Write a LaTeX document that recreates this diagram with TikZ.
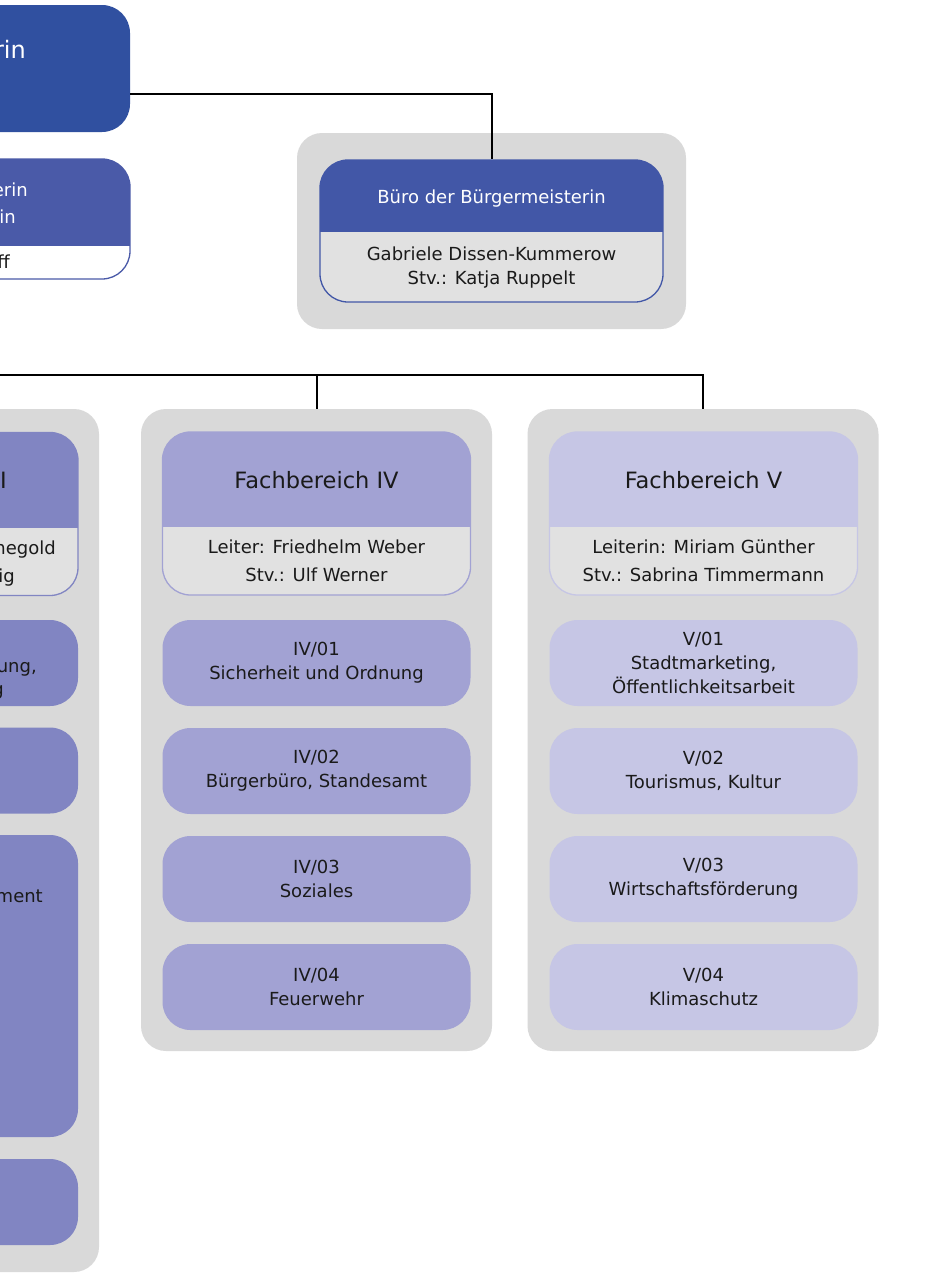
\documentclass[tikz,border=0pt]{standalone}
\usepackage{fontspec}
\setmainfont{DejaVu Sans}
\usepackage{tikz}

\definecolor{grpgrey}{HTML}{D9D9D9}
\definecolor{lowgrey}{HTML}{E1E1E1}
\definecolor{topblue}{HTML}{3050A0}
\definecolor{stvblue}{HTML}{4A5AA8}
\definecolor{buroblue}{HTML}{4257A7}
\definecolor{colIII}{HTML}{8185C2}
\definecolor{colIV}{HTML}{A2A2D3}
\definecolor{colV}{HTML}{C6C6E5}
\definecolor{txt}{HTML}{1A1A1A}

\newcommand\bodyfont{\fontsize{18}{24}\selectfont}
\newcommand\leitfont{\fontsize{18}{28}\selectfont}
\newcommand\titlefont{\fontsize{22.5}{27}\selectfont}
\newcommand\bigfont{\fontsize{24}{29}\selectfont}

\tikzset{
  grpbox/.style={fill=grpgrey, rounded corners=25pt, inner sep=0pt, minimum width=351pt},
  hdrbox/.style n args={2}{fill=lowgrey, draw=#1, line width=1.3pt, rounded corners=28pt,
    inner sep=0pt,
    path picture={\fill[#1, sharp corners] (path picture bounding box.north west) rectangle
      ([yshift=-#2]path picture bounding box.north east);}},
  colhdr/.style={hdrbox={#1}{95pt}, minimum width=308pt, minimum height=163pt},
  unitbox/.style={fill=#1, rounded corners=28pt, inner sep=0pt, minimum width=308pt,
    minimum height=86pt, align=center, font=\bodyfont, text=txt},
  frag/.style={anchor=base east, inner sep=0pt, text=txt, font=\bodyfont},
  conn/.style={draw=black, line width=2pt}
}

\begin{document}
\begin{tikzpicture}[x=1pt,y=-1pt]
\useasboundingbox (0,0) rectangle (927,1274);
\clip (0,0) rectangle (927,1274);
\fill[white] (0,0) rectangle (927,1274);

% Leitung
\node[fill=topblue, rounded corners=28pt, minimum width=330pt, minimum height=127pt] (bm) at (-35,68.5) {};
\node[frag, text=white, font=\bigfont] (bmtxt) at (26,58) {rin};
\node[hdrbox={stvblue}{87pt}, fill=white, minimum width=330pt, minimum height=120pt] (stv) at (-35,219) {};
\node[frag, text=white] (stv1) at (28,196) {erin};
\node[frag, text=white] (stv2) at (16,223) {in};
\node[frag] (stv3) at (10,268) {ff};

% Buero
\node[grpbox, minimum width=389pt, minimum height=196pt] (grpB) at (491.5,231) {};
\node[hdrbox={buroblue}{72pt}, minimum width=343pt, minimum height=142pt] (buro) at (491.5,231) {};
\node[anchor=base, text=white, font=\bodyfont] (burotitle) at (491.5,203) {Büro der Bürgermeisterin};
\node[align=center, text=txt, font=\bodyfont] (buronames) at (491.5,268) {Gabriele Dissen-Kummerow\\Stv.: Katja Ruppelt};

% Fachbereich III
\node[grpbox, minimum height=863pt] (grpIII) at (-76.5,840.5) {};
\node[colhdr=colIII] (hIII) at (-76,514) {};
\node[frag, font=\titlefont] (hIIIt) at (7,488) {I};
\node[frag] (hIII1) at (56,554) {negold};
\node[frag] (hIII2) at (15,582) {ig};
\node[unitbox=colIII] (iii1) at (-76,663) {};
\node[frag] (iii1a) at (37,672) {ung,};
\node[frag] (iii1b) at (4,695) {g};
\node[unitbox=colIII] (iii2) at (-76,770.5) {};
\node[unitbox=colIII, minimum height=302pt] (iii3) at (-76,986) {};
\node[frag] (iii3a) at (43,902) {ment};
\node[unitbox=colIII] (iii4) at (-76,1202) {};

% Fachbereich IV
\node[grpbox, minimum height=642pt] (grpIV) at (316.5,730) {};
\node[colhdr=colIV] (hIV) at (316.5,513.5) {};
\node[anchor=base, text=txt, font=\titlefont] (hIVt) at (316.5,488) {Fachbereich IV};
\node[align=center, text=txt, font=\leitfont] (hIVl) at (316.5,561) {Leiter: Friedhelm Weber\\Stv.: Ulf Werner};
\node[unitbox=colIV] (iv1) at (316.5,663) {IV/01\\Sicherheit und Ordnung};
\node[unitbox=colIV] (iv2) at (316.5,771) {IV/02\\Bürgerbüro, Standesamt};
\node[unitbox=colIV] (iv3) at (316.5,879) {IV/03\\Soziales};
\node[unitbox=colIV] (iv4) at (316.5,987) {IV/04\\Feuerwehr};

% Fachbereich V
\node[grpbox, minimum height=642pt] (grpV) at (703,730) {};
\node[colhdr=colV] (hV) at (703.5,513.5) {};
\node[anchor=base, text=txt, font=\titlefont] (hVt) at (703.5,488) {Fachbereich V};
\node[align=center, text=txt, font=\leitfont] (hVl) at (703.5,561) {Leiterin: Miriam Günther\\Stv.: Sabrina Timmermann};
\node[unitbox=colV] (v1) at (703.5,663) {V/01\\Stadtmarketing,\\Öffentlichkeitsarbeit};
\node[unitbox=colV] (v2) at (703.5,771) {V/02\\Tourismus, Kultur};
\node[unitbox=colV] (v3) at (703.5,879) {V/03\\Wirtschaftsförderung};
\node[unitbox=colV] (v4) at (703.5,987) {V/04\\Klimaschutz};

% Linien
\coordinate (bmout) at (130,94);
\coordinate (busL) at (-5,375);
\draw[conn] (bmout) -| (buro.north);
\draw[conn] (busL) -| (grpV.north);
\draw[conn] (grpIV.north) -- (grpIV.north |- busL);
\end{tikzpicture}
\end{document}
